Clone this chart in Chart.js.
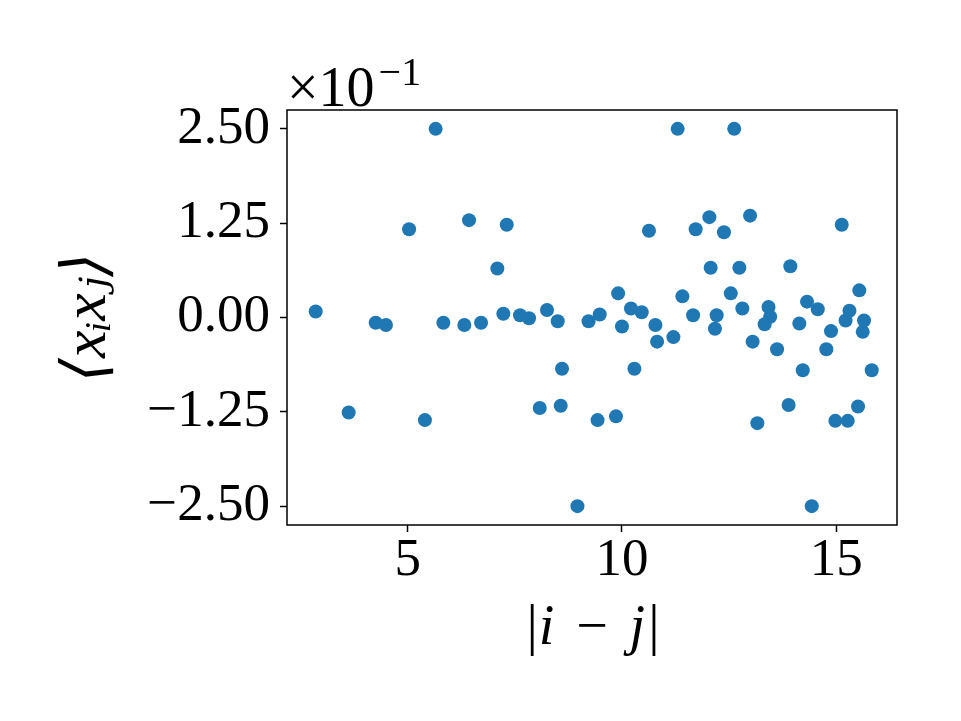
<!DOCTYPE html>
<html><head><meta charset="utf-8">
<script src="https://cdn.jsdelivr.net/npm/chart.js@4.4.1/dist/chart.umd.min.js"></script>
<style>html,body{margin:0;padding:0;background:#fff;overflow:hidden}#wrap{width:961px;height:721px}</style>
</head><body><div id="wrap"><canvas id="c" width="961" height="721"></canvas></div>
<script>
// |i-j| separations and correlations <x_i x_j> (in units of 10^-1, as shown on the axis)
const separation = [2.85,3.62,4.25,4.49,5.03,5.40,5.65,5.83,6.32,6.43,6.71,7.09,7.23,7.31,7.62,7.83,8.08,8.25,8.50,8.57,8.60,8.96,9.22,9.43,9.48,9.86,9.91,10.00,10.21,10.29,10.46,10.63,10.78,10.82,11.20,11.30,11.41,11.66,11.72,12.04,12.07,12.17,12.21,12.38,12.54,12.62,12.74,12.81,12.99,13.05,13.16,13.33,13.42,13.46,13.62,13.89,13.93,14.14,14.22,14.32,14.43,14.57,14.77,14.88,14.98,15.13,15.22,15.27,15.31,15.51,15.54,15.62,15.65,15.83];
const correlation = [0.08,-1.26,-0.07,-0.10,1.17,-1.36,2.50,-0.07,-0.10,1.29,-0.07,0.65,0.05,1.23,0.03,-0.01,-1.20,0.10,-0.05,-1.17,-0.68,-2.50,-0.05,-1.36,0.04,-1.31,0.32,-0.12,0.12,-0.68,0.07,1.15,-0.10,-0.32,-0.26,2.50,0.28,0.03,1.17,1.33,0.66,-0.15,0.03,1.13,0.32,2.50,0.66,0.12,1.35,-0.32,-1.40,-0.09,0.14,0.01,-0.42,-1.16,0.68,-0.08,-0.70,0.21,-2.50,0.11,-0.42,-0.18,-1.37,1.23,-0.04,-1.37,0.09,-1.18,0.36,-0.19,-0.04,-0.70];
const xTickValues = [5, 10, 15];
const xTickLabels = ['5', '10', '15'];
const yTickValues = [-2.5, -1.25, 0, 1.25, 2.5];
const yTickLabels = ['\u22122.50', '\u22121.25', '0.00', '1.25', '2.50'];
const xTitle = '|i\u2004\u2212\u2004j|';
const yTitle = '\u27E8x\u1D62x\u2C7C\u27E9';
const offsetBase = '\u00D710';
const offsetExp = '\u22121';

const pts = separation.map((x, i) => ({x: x, y: correlation[i]}));
const serif = "'Liberation Serif', 'DejaVu Serif', serif";

const framePlugin = {
  id: 'frame',
  afterDraw(chart) {
    const {ctx, chartArea: a} = chart;
    ctx.save();
    ctx.strokeStyle = '#000';
    ctx.lineWidth = 1.5;
    ctx.strokeRect(a.left, a.top, a.right - a.left, a.bottom - a.top);
    // offset text x10^-1
    ctx.fillStyle = '#000';
    ctx.textBaseline = 'alphabetic';
    ctx.textAlign = 'left';
    ctx.font = '56px ' + serif;
    ctx.fillText(offsetBase, a.left, a.top - 4);
    const w = ctx.measureText(offsetBase).width;
    ctx.font = '40px ' + serif;
    ctx.fillText(offsetExp, a.left + w + 4, a.top - 25);
    ctx.restore();
  }
};

new Chart(document.getElementById('c'), {
  type: 'scatter',
  data: { datasets: [{
    data: pts,
    backgroundColor: '#1f77b4',
    borderColor: '#1f77b4',
    pointRadius: 7,
    pointHoverRadius: 7,
    borderWidth: 0
  }]},
  options: {
    responsive: false,
    animation: false,
    devicePixelRatio: 1,
    layout: { padding: { top: 110, right: 64, left: 0, bottom: 0 } },
    plugins: { legend: { display: false }, tooltip: { enabled: false } },
    scales: {
      x: {
        type: 'linear', min: 2.18, max: 16.42,
        afterBuildTicks(s) { s.ticks = xTickValues.map(v => ({value: v})); },
        afterFit(s) { s.height = 196; },
        grid: { drawOnChartArea: false, drawTicks: true, tickLength: 7, tickColor: '#000', tickWidth: 1.5 },
        border: { display: false },
        ticks: {
          color: '#000', padding: 3, maxRotation: 0, autoSkip: false,
          font: { family: serif, size: 53, lineHeight: 1 },
          callback(v) { const i = xTickValues.indexOf(v); return i >= 0 ? xTickLabels[i] : ''; }
        },
        title: { display: true, text: xTitle, color: '#000',
          font: { family: serif, size: 56, style: 'italic', lineHeight: 1 },
          padding: { top: 0, bottom: 64 } }
      },
      y: {
        type: 'linear', min: -2.75, max: 2.75,
        afterBuildTicks(s) { s.ticks = yTickValues.map(v => ({value: v})); },
        afterFit(s) { s.width = 287; },
        grid: { drawOnChartArea: false, drawTicks: true, tickLength: 7, tickColor: '#000', tickWidth: 1.5 },
        border: { display: false },
        ticks: {
          color: '#000', padding: 10, autoSkip: false,
          font: { family: serif, size: 53, lineHeight: 1 },
          callback(v) { const i = yTickValues.indexOf(v); return i >= 0 ? yTickLabels[i] : ''; }
        },
        title: { display: true, text: yTitle, color: '#000',
          font: { family: serif, size: 62, style: 'italic', lineHeight: 1 },
          padding: { top: 58, bottom: 0 } }
      }
    }
  },
  plugins: [framePlugin]
});
</script></body></html>
